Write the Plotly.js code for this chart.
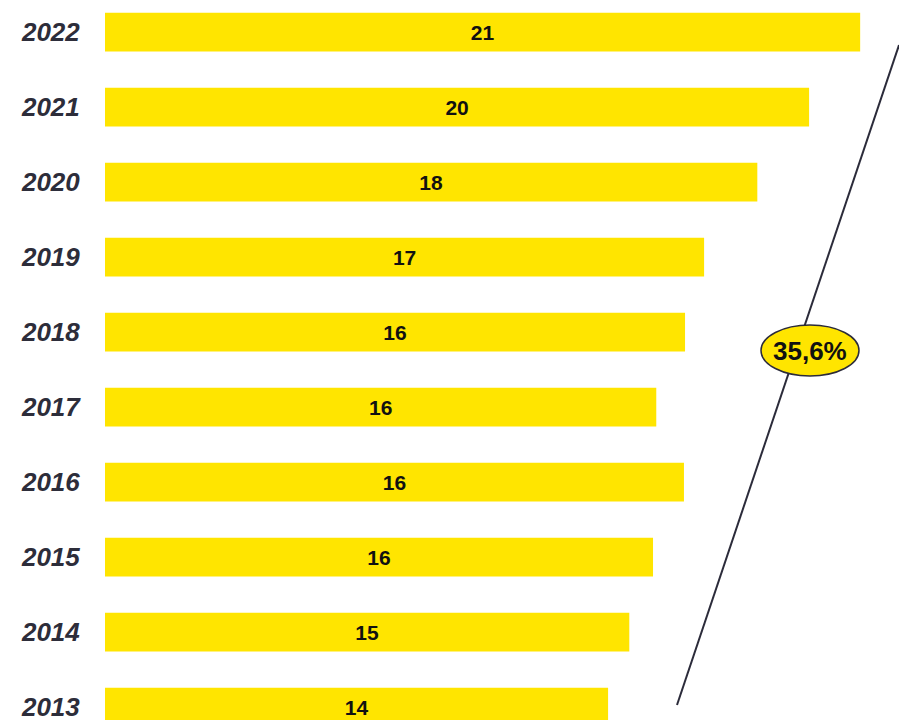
<!DOCTYPE html>
<html>
<head>
<meta charset="utf-8">
<script src="https://cdn.plot.ly/plotly-3.0.1.min.js"></script>
<style>html,body{margin:0;padding:0;background:#fff;}#chart{width:899px;height:720px;}</style>
</head>
<body>
<div id="chart"></div>
<script>
const years = ['2013','2014','2015','2016','2017','2018','2019','2020','2021','2022'];
const values = [13.99, 14.58, 15.24, 16.10, 15.33, 16.13, 16.66, 18.14, 19.58, 21.0];
const valueLabels = ['14','15','16','16','16','16','17','18','20','21'];
const growthLabel = '35,6%';

const trace = {
  type: 'bar',
  orientation: 'h',
  y: years,
  x: values,
  text: valueLabels,
  textposition: 'inside',
  insidetextanchor: 'middle',
  constraintext: 'none',
  textangle: 0,
  textfont: {family: 'Liberation Sans, Arial, sans-serif', size: 21, color: '#111111', weight: 'bold'},
  marker: {color: '#FFE500', line: {width: 0}},
  width: 0.517,
  hoverinfo: 'none'
};

const layout = {
  width: 899, height: 720,
  margin: {l: 105, r: 0, t: 0, b: 0, pad: 0},
  paper_bgcolor: '#ffffff', plot_bgcolor: '#ffffff',
  showlegend: false,
  xaxis: {range: [0, 22.08], visible: false, fixedrange: true},
  yaxis: {
    type: 'category',
    range: [-0.173, 9.427],
    showgrid: false, zeroline: false, showline: false,
    ticks: 'outside', ticklen: 19, tickcolor: 'rgba(0,0,0,0)',
    tickfont: {family: 'Liberation Sans, Arial, sans-serif', size: 26, color: '#2d2d3a', weight: 'bold', style: 'italic'}
  },
  shapes: [
    {type: 'line', xref: 'paper', yref: 'paper', x0: 0.7204, y0: 0.0208, x1: 1.0, y1: 0.9375,
     line: {color: '#2b2b3a', width: 2}, layer: 'above'},
    {type: 'circle', xref: 'paper', yref: 'paper', x0: 0.8262, x1: 0.9496, y0: 0.4778, y1: 0.5486,
     fillcolor: '#FFE500', line: {color: '#2b2b3a', width: 1.5}, layer: 'above'}
  ],
  annotations: [
    {xref: 'paper', yref: 'paper', x: 0.888, y: 0.5125, text: growthLabel, showarrow: false,
     xanchor: 'center', yanchor: 'middle',
     font: {family: 'Liberation Sans, Arial, sans-serif', size: 26, color: '#111111', weight: 'bold'}}
  ]
};

Plotly.newPlot('chart', [trace], layout, {displayModeBar: false, staticPlot: true});
</script>
</body>
</html>
